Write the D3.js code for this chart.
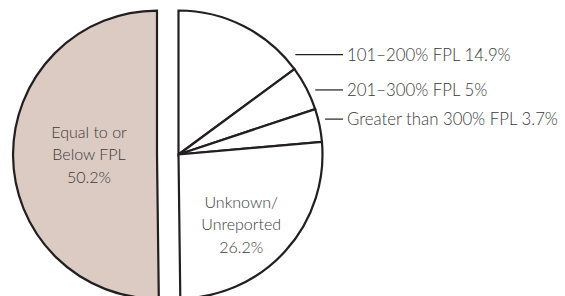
<!DOCTYPE html>
<html>
<head>
<meta charset="utf-8">
<script src="https://cdn.jsdelivr.net/npm/d3@7"></script>
<style>
  html, body { margin: 0; padding: 0; background: #fff; }
  svg { display: block; }
  text { font-family: Lato, "Open Sans", sans-serif; font-weight: 300; fill: #3a3a3a; }
</style>
</head>
<body>
<div class="chart"></div>
<script>
// data (clockwise from 12 o'clock)
const categories = ['101\u2013200% FPL', '201\u2013300% FPL', 'Greater than 300% FPL', 'Unknown/Unreported', 'Equal to or Below FPL'];
const shares = [14.9, 5, 3.7, 26.2, 50.2];
const insideLines = [null, null, null, ['Unknown/', 'Unreported', '26.2%'], ['Equal to or', 'Below FPL', '50.2%']];

const WIDTH = 565, HEIGHT = 296;
const CENTER = { x: 178.5, y: 154.5 };
const RADIUS = 144;
const EXPLODE = 21.5;           // the big slice is pulled out to the left
const LEADER_END = 343;
const LEADER_FRAC = [0.86, 0.54, 0.31];   // where along each small slice the leader sits
const LEADER_GAP = [13, 8, 7];
const LINE_HEIGHT = 22.5;

const pieData = d3.pie().sort(null).value(d => d)(shares);
pieData.forEach((d, i) => { d.name = categories[i]; d.lines = insideLines[i]; });

const arc = d3.arc().innerRadius(0).outerRadius(RADIUS);

const svg = d3.select('.chart').append('svg')
  .attr('width', WIDTH)
  .attr('height', HEIGHT);

const g = svg.append('g')
  .attr('transform', `translate(${CENTER.x}, ${CENTER.y})`);

const offset = d => {
  if (d.index !== 4) return [0, 0];
  const a = (d.startAngle + d.endAngle) / 2;
  return [EXPLODE * Math.sin(a), -EXPLODE * Math.cos(a)];
};

const slices = g.selectAll('g.slice')
  .data(pieData)
  .enter().append('g')
  .attr('class', 'slice')
  .attr('transform', d => `translate(${offset(d)})`);

slices.append('path')
  .attr('d', arc)
  .attr('fill', d => d.index === 4 ? '#dccbc2' : '#fff')
  .attr('stroke', '#231f20')
  .attr('stroke-width', 2.2)
  .attr('stroke-linejoin', 'miter');

// labels inside the two large slices
const labelPos = d => {
  if (d.index === 4) return [-68, 0];
  const a = (d.startAngle + d.endAngle) / 2 + 0.106;
  const r = 94;
  return [r * Math.sin(a), -r * Math.cos(a)];
};

slices.filter(d => d.lines)
  .append('text')
  .attr('text-anchor', 'middle')
  .attr('font-size', 16)
  .attr('transform', d => `translate(${labelPos(d)})`)
  .selectAll('tspan')
  .data(d => d.lines)
  .enter().append('tspan')
  .attr('x', 0)
  .attr('y', (t, i) => (i - 1) * LINE_HEIGHT)
  .attr('dy', '0.35em')
  .text(t => t);

// leader labels for the three small slices
const small = pieData.slice(0, 3);
g.selectAll('g.leader')
  .data(small)
  .enter().append('g')
  .attr('class', 'leader')
  .each(function (d, i) {
    const a = d.startAngle + (d.endAngle - d.startAngle) * LEADER_FRAC[i];
    const y = -RADIUS * Math.cos(a);
    const x0 = RADIUS * Math.sin(a) + LEADER_GAP[i];
    const x1 = LEADER_END - CENTER.x;
    const sel = d3.select(this);
    sel.append('line')
      .attr('x1', x0).attr('x2', x1)
      .attr('y1', y).attr('y2', y)
      .attr('stroke', '#231f20')
      .attr('stroke-width', 1.2);
    sel.append('text')
      .attr('x', x1 + 4)
      .attr('y', y)
      .attr('dy', '0.35em')
      .attr('font-size', 16.8)
      .text(`${d.name} ${d.data}%`);
  });
</script>
</body>
</html>
